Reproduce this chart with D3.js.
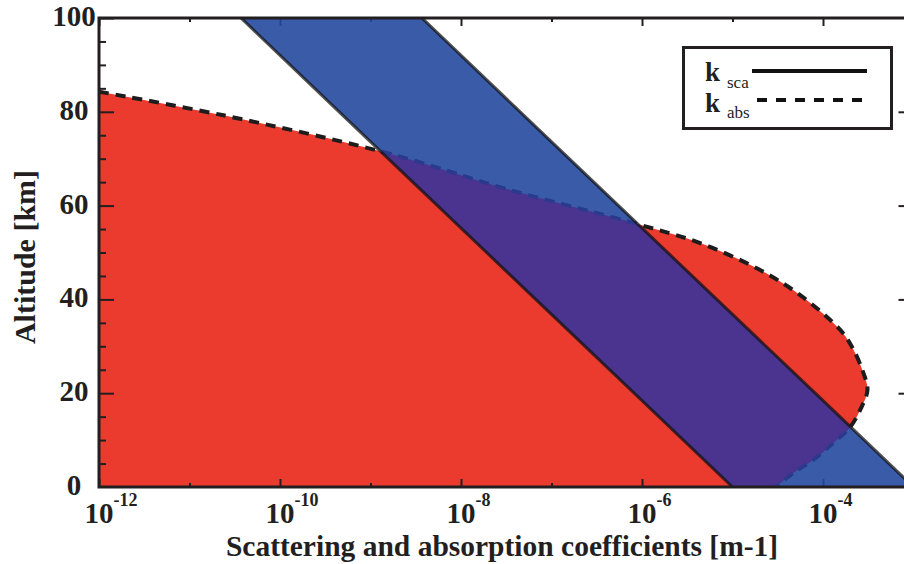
<!DOCTYPE html>
<html><head><meta charset="utf-8">
<script src="https://cdn.jsdelivr.net/npm/d3@7"></script>
<style>body{margin:0;background:#fff} svg{display:block}</style>
</head><body><svg id="c" width="904" height="564"></svg>
<script>
// ---- data ----
// absorption coefficient profile (dashed curve, red region)
const absAltitude = [84.3, 79.3, 71.4, 63.3, 55.9, 52.0, 46.3, 40.9, 33.5, 29.8, 24.7, 20.7, 16.6, 12.8, 9.4, 5.8, 3.0, 0];
const absCoeff    = [1e-12, 2.3e-11, 1.4e-9, 3.5e-8, 9.5e-7, 4.4e-6, 2.0e-5, 5.6e-5, 1.55e-4, 2.1e-4, 2.75e-4, 3.1e-4, 2.6e-4, 2.0e-4, 1.3e-4, 7.8e-5, 4.7e-5, 3.0e-5];
// scattering coefficient band (solid lines, blue band)
const scaAltitude = [0, 20, 40, 60, 80, 100];
const scaMin      = [1e-5, 8.2e-7, 6.7e-8, 5.5e-9, 4.5e-10, 3.7e-11];
const scaMax      = [1e-3, 8.2e-5, 6.7e-6, 5.5e-7, 4.5e-8, 3.7e-9];
// axes
const xDecadesMajor = [1e-12, 1e-10, 1e-8, 1e-6, 1e-4];
const xDecadesMinor = [1e-11, 1e-9, 1e-7, 1e-5, 1e-3];
const xLabelExponents = ["-12", "-10", "-8", "-6", "-4"];
const yMajor = [0, 20, 40, 60, 80, 100];
const yMinor = [5, 10, 15, 25, 30, 35, 45, 50, 55, 65, 70, 75, 85, 90, 95];
const yRightTicks = [20, 40, 60, 80];
const legendItems = [{sym: "k", sub: "sca", dash: null}, {sym: "k", sub: "abs", dash: "10,9"}];
const xTitle = "Scattering and absorption coefficients [m-1]";
const yTitle = "Altitude [km]";

// ---- drawing ----
const FONT = "'Liberation Serif','Times New Roman',Times,serif";
const INK = "#231F20";
const svg = d3.select("#c");
const x = d3.scaleLog().domain([1e-12, 1e-3]).range([99, 913.5]);
const y = d3.scaleLinear().domain([0, 100]).range([487, 18]);
const X0 = x.range()[0], X1 = x.range()[1], Y0 = y.range()[0], Y1 = y.range()[1];

const absData = absAltitude.map((a, i) => ({a, k: absCoeff[i]}));
const scaData = scaAltitude.map((a, i) => ({a, lo: scaMin[i], hi: scaMax[i]}));

const redArea = d3.area().curve(d3.curveCatmullRom.alpha(0.5))
  .y(d => y(d.a)).x0(X0).x1(d => x(d.k));
const absLine = d3.line().curve(d3.curveCatmullRom.alpha(0.5))
  .x(d => x(d.k)).y(d => y(d.a));
const bandArea = d3.area().y(d => y(d.a)).x0(d => x(d.lo)).x1(d => x(d.hi));
const loLine = d3.line().x(d => x(d.lo)).y(d => y(d.a));
const hiLine = d3.line().x(d => x(d.hi)).y(d => y(d.a));

const defs = svg.append("defs");
defs.append("clipPath").attr("id", "plotClip").append("rect")
  .attr("x", X0).attr("y", Y1).attr("width", X1 - X0).attr("height", Y0 - Y1);
defs.append("clipPath").attr("id", "redClip").append("path").attr("d", redArea(absData));
defs.append("clipPath").attr("id", "bandClip").append("path").attr("d", bandArea(scaData));

const plot = svg.append("g").attr("clip-path", "url(#plotClip)");
// red absorption region
plot.append("path").attr("d", redArea(absData)).attr("fill", "#EA3B2E");

// ticks (drawn under the band so they get tinted)
const tickG = plot.append("g");
function styleAxis(g) {
  g.select(".domain").remove();
  g.selectAll(".tick line").attr("stroke", INK).attr("stroke-width", 2);
}
tickG.append("g").attr("transform", `translate(0,${Y0})`)
  .call(d3.axisBottom(x).tickValues(xDecadesMajor).tickSize(-8).tickFormat("")).call(styleAxis);
tickG.append("g").attr("transform", `translate(0,${Y0})`)
  .call(d3.axisBottom(x).tickValues(xDecadesMinor).tickSize(-4).tickFormat("")).call(styleAxis);
tickG.append("g").attr("transform", `translate(0,${Y1})`)
  .call(d3.axisTop(x).tickValues(xDecadesMajor).tickSize(-8).tickFormat("")).call(styleAxis);
tickG.append("g").attr("transform", `translate(0,${Y1})`)
  .call(d3.axisTop(x).tickValues(xDecadesMinor).tickSize(-4).tickFormat("")).call(styleAxis);
tickG.append("g").attr("transform", `translate(${X0},0)`)
  .call(d3.axisLeft(y).tickValues(yMajor).tickSize(-15).tickFormat("")).call(styleAxis);
tickG.append("g").attr("transform", `translate(${X0},0)`)
  .call(d3.axisLeft(y).tickValues(yMinor).tickSize(-7).tickFormat("")).call(styleAxis);
tickG.append("g").attr("transform", `translate(${X1},0)`)
  .call(d3.axisRight(y).tickValues(yRightTicks).tickSize(-15).tickFormat("")).call(styleAxis);

// dashed absorption curve
plot.append("path").attr("d", absLine(absData)).attr("fill", "none")
  .attr("stroke", "#1d1d1d").attr("stroke-width", 4).attr("stroke-dasharray", "10,7");

// blue scattering band
plot.append("path").attr("d", bandArea(scaData)).attr("fill", "rgb(36,73,159)").attr("fill-opacity", 0.9);
// overlap (purple)
plot.append("path").attr("d", bandArea(scaData)).attr("clip-path", "url(#redClip)")
  .attr("fill", "rgb(77,50,144)").attr("fill-opacity", 0.9);
// dashed curve seen through the band
plot.append("path").attr("d", absLine(absData)).attr("clip-path", "url(#bandClip)").attr("fill", "none")
  .attr("stroke", "#2a3a8c").attr("stroke-opacity", 0.9).attr("stroke-width", 3.5).attr("stroke-dasharray", "10,7");
// band edges
[loLine, hiLine].forEach(l => plot.append("path").attr("d", l(scaData)).attr("fill", "none")
  .attr("stroke", "#111").attr("stroke-opacity", 0.72).attr("stroke-width", 3));

// frame
svg.append("rect").attr("x", X0).attr("y", Y1).attr("width", X1 - X0).attr("height", Y0 - Y1)
  .attr("fill", "none").attr("stroke", INK).attr("stroke-width", 3);

// tick labels
const yl = svg.append("g").attr("font-family", FONT).attr("font-weight", "bold").attr("font-size", 29).attr("fill", INK);
yl.selectAll("text").data(yMajor).join("text")
  .attr("x", 74).attr("y", d => y(d) + 8).attr("text-anchor", "middle").text(d => d);
const xl = svg.append("g").attr("font-family", FONT).attr("font-weight", "bold").attr("fill", INK);
xl.selectAll("text").data(xDecadesMajor).join("text")
  .attr("x", d => x(d) - 14.5).attr("y", 523).attr("font-size", 29)
  .each(function (d, i) {
    const t = d3.select(this);
    t.append("tspan").text("10");
    t.append("tspan").attr("font-size", 18).attr("dy", -17).text(xLabelExponents[i]);
  });

// axis titles
svg.append("text").attr("x", 502).attr("y", 556).attr("text-anchor", "middle")
  .attr("font-family", FONT).attr("font-weight", "bold").attr("font-size", 29.5).attr("fill", INK).text(xTitle);
svg.append("text").attr("transform", "translate(35,257) rotate(-90)").attr("text-anchor", "middle")
  .attr("font-family", FONT).attr("font-weight", "bold").attr("font-size", 30).attr("fill", INK).text(yTitle);

// legend
const lg = svg.append("g");
lg.append("rect").attr("x", 683.5).attr("y", 47.5).attr("width", 208).attr("height", 81)
  .attr("fill", "#fff").attr("stroke", INK).attr("stroke-width", 3);
legendItems.forEach((it, i) => {
  const by = 81 + i * 31;
  lg.append("text").attr("x", 705).attr("y", by).attr("font-family", FONT).attr("fill", INK)
    .attr("font-weight", "bold").attr("font-size", 27).text(it.sym);
  lg.append("text").attr("x", 727).attr("y", by + 7 - i).attr("font-family", FONT).attr("font-size", 17)
    .attr("fill", INK).text(it.sub);
  lg.append("line").attr("x1", 752 + i * 5).attr("x2", 867 - i * 5).attr("y1", 71 + i * 29).attr("y2", 71 + i * 29)
    .attr("stroke", "#111").attr("stroke-width", 4).attr("stroke-dasharray", it.dash);
});
</script></body></html>
